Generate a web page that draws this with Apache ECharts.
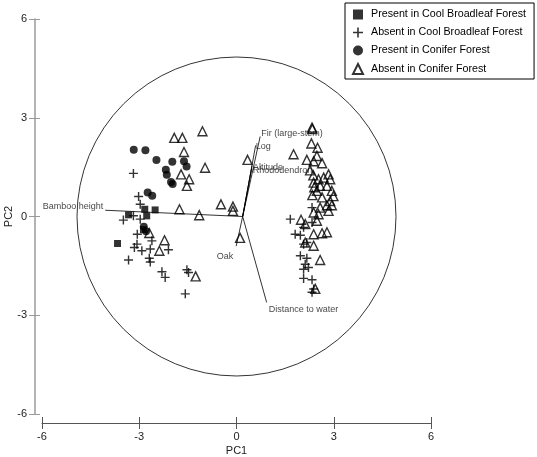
<!DOCTYPE html>
<html>
<head>
<meta charset="utf-8">
<script src="https://cdn.jsdelivr.net/npm/echarts@6/dist/echarts.min.js"></script>
<style>html,body{margin:0;padding:0;background:#fff;}#c{width:537px;height:457px;}</style>
</head>
<body>
<div id="c"></div>
<script>
// ---- data ----
const axisTicks = [-6, -3, 0, 3, 6];
const seriesNames = ['Present in Cool Broadleaf Forest', 'Absent in Cool Broadleaf Forest', 'Present in Conifer Forest', 'Absent in Conifer Forest'];

const presentBroadleaf = [
  [-3.33, 0.05], [-2.83, 0.22], [-2.51, 0.20], [-2.77, 0.02], [-2.87, -0.40], [-3.67, -0.82]
];

const absentBroadleaf = [
  [-3.18, 1.31], [-3.02, 0.61], [-2.97, 0.37], [-3.49, -0.11], [-3.18, 0.02], [-2.97, -0.08],
  [-3.06, -0.54], [-3.07, -0.84], [-3.15, -0.94], [-2.92, -1.04], [-2.66, -0.99], [-2.61, -0.74],
  [-2.10, -1.01], [-3.33, -1.32], [-2.69, -1.27], [-2.66, -1.38], [-2.30, -1.68], [-2.20, -1.85],
  [-1.53, -1.62], [-1.48, -1.70], [-1.58, -2.35],
  [1.66, -0.08], [2.07, -0.33], [2.33, -0.18], [1.81, -0.54], [1.97, -0.57], [2.17, -0.79],
  [2.07, -0.84], [1.97, -1.19], [2.17, -1.27], [2.12, -1.45], [2.22, -1.55], [2.07, -1.60],
  [2.07, -1.88], [2.33, -1.92], [2.38, -2.20], [2.33, -2.30], [2.33, 0.27]
];

const presentConifer = [
  [-3.17, 2.03], [-2.81, 2.01], [-2.47, 1.72], [-1.98, 1.66], [-1.62, 1.68], [-1.54, 1.52],
  [-2.18, 1.42], [-2.15, 1.27], [-2.02, 1.05], [-1.97, 0.99], [-2.74, 0.73], [-2.60, 0.63],
  [-2.86, -0.31], [-2.79, -0.45]
];

const absentConifer = [
  [-1.92, 2.39], [-1.67, 2.39], [-1.05, 2.59], [-1.62, 1.96], [-0.97, 1.48], [-1.71, 1.28],
  [-1.46, 1.13], [-1.53, 0.93], [-1.76, 0.22], [-1.15, 0.04], [-0.48, 0.37], [-0.11, 0.30],
  [-0.11, 0.17], [0.34, 1.72], [0.11, -0.65], [-2.22, -0.72], [-2.38, -1.04], [-1.26, -1.82],
  [-2.69, -0.50],
  [2.33, 2.70], [2.34, 2.66], [2.31, 2.22], [2.50, 2.09], [1.76, 1.89], [2.17, 1.72],
  [2.38, 1.68], [2.48, 1.84], [2.64, 1.62], [2.84, 1.28], [2.69, 1.18], [2.53, 1.13],
  [2.38, 1.03], [2.89, 1.13], [2.58, 0.93], [2.79, 0.93], [2.94, 0.78], [2.99, 0.62],
  [2.89, 0.47], [2.79, 0.34], [2.94, 0.34], [2.48, 0.78], [2.64, 0.58], [2.58, 0.27],
  [2.27, 1.40], [2.37, 1.25], [2.40, 0.89], [2.34, 0.65],
  [1.99, -0.10], [2.12, -0.23], [2.48, -0.13], [2.53, 0.07], [2.84, 0.17], [2.38, 0.12],
  [2.38, -0.54], [2.64, -0.51], [2.79, -0.48], [2.12, -0.79], [2.38, -0.89], [2.58, -1.32],
  [2.43, -2.20]
];

const vectorOrigin = [0.19, 0];
const vectorNames = ['Bamboo height', 'Fir (large-stem)', 'Log', 'Altitude', 'Rhododendron', 'Oak', 'Distance to water'];
const vectorX = [-4.05, 0.73, 0.59, 0.48, 0.47, -0.01, 0.93];
const vectorY = [0.19, 2.43, 2.16, 1.55, 1.46, -0.90, -2.61];
const circleRadius = 4.92;

// ---- styling (positions of labels relative to vector ends) ----
const labelStyle = {
  'Bamboo height': {offset: [-2, -4], align: 'right'},
  'Fir (large-stem)': {offset: [1, -3], align: 'left'},
  'Log': {offset: [0, 1], align: 'left'},
  'Altitude': {offset: [1, 2], align: 'left'},
  'Rhododendron': {offset: [1, 2], align: 'left'},
  'Oak': {offset: [-3, 10], align: 'right'},
  'Distance to water': {offset: [2, 7], align: 'left'}
};

const FONT = 'Arial, "Liberation Sans", sans-serif';
const PLUS = 'path://M4.2,0H5.8V4.2H10V5.8H5.8V10H4.2V5.8H0V4.2H4.2Z';

const chart = echarts.init(document.getElementById('c'), null, {renderer: 'canvas'});

const vecLines = vectorNames.map((n, i) => ({coords: [vectorOrigin, [vectorX[i], vectorY[i]]]}));
const vecLabels = vectorNames.map((n, i) => ({
  name: n,
  value: [vectorX[i], vectorY[i]],
  label: {
    show: true,
    formatter: n,
    position: labelStyle[n].offset,
    align: labelStyle[n].align,
    verticalAlign: 'middle',
    fontSize: 9,
    fontFamily: FONT,
    color: '#111'
  }
}));

const axisCommon = {min: -6, max: 6, interval: 3, splitLine: {show: false}};

chart.setOption({
  backgroundColor: '#fff',
  animation: false,
  grid: {left: 42, right: 106, top: 19, bottom: 43, containLabel: false, outerBoundsMode: 'none'},
  legend: {
    orient: 'vertical',
    left: 345,
    top: 3,
    data: seriesNames,
    itemWidth: 10,
    itemHeight: 10,
    itemGap: 7,
    padding: [6, 8, 4, 7],
    borderColor: '#000',
    borderWidth: 1,
    backgroundColor: '#fff',
    textStyle: {fontSize: 10.7, fontFamily: FONT, color: '#000', lineHeight: 10, padding: [0, 0, 0, 3]},
    selectedMode: false
  },
  xAxis: [
    Object.assign({}, axisCommon, {
      type: 'value', position: 'bottom', offset: 9,
      axisLine: {show: true, onZero: false, lineStyle: {color: '#555', width: 1}},
      axisTick: {show: true, length: 6, lineStyle: {color: '#555'}},
      axisLabel: {fontSize: 11, fontFamily: FONT, color: '#222', margin: 8},
      name: 'PC1', nameLocation: 'middle', nameGap: 22, nameMoveOverlap: false,
      nameTextStyle: {fontSize: 11, fontFamily: FONT, color: '#222'}
    }),
    Object.assign({}, axisCommon, {
      type: 'value', position: 'bottom', offset: 9,
      axisLine: {show: false, onZero: false},
      axisTick: {show: true, inside: true, length: 6, lineStyle: {color: '#555'}},
      axisLabel: {show: false}
    })
  ],
  yAxis: [
    Object.assign({}, axisCommon, {
      type: 'value', position: 'left', offset: 7,
      axisLine: {show: true, onZero: false, lineStyle: {color: '#9a9a9a', width: 1.5}},
      axisTick: {show: true, length: 6, lineStyle: {color: '#9a9a9a', width: 1}},
      axisLabel: {fontSize: 11, fontFamily: FONT, color: '#222', margin: 8},
      name: 'PC2', nameLocation: 'middle', nameGap: 21, nameMoveOverlap: false,
      nameTextStyle: {fontSize: 11, fontFamily: FONT, color: '#222'}
    }),
    Object.assign({}, axisCommon, {
      type: 'value', position: 'left', offset: 7,
      axisLine: {show: false, onZero: false},
      axisTick: {show: true, inside: true, length: 5, lineStyle: {color: '#9a9a9a', width: 1}},
      axisLabel: {show: false}
    })
  ],
  series: [
    {
      type: 'lines', coordinateSystem: 'cartesian2d', data: vecLines, silent: true,
      lineStyle: {color: '#000', width: 0.8, opacity: 1}, z: 1
    },
    {
      type: 'scatter', data: vecLabels, symbolSize: 0, silent: true, z: 1
    },
    {
      name: seriesNames[0], type: 'scatter', data: presentBroadleaf, symbol: 'rect', symbolSize: 7,
      itemStyle: {color: '#000'}, z: 3
    },
    {
      name: seriesNames[1], type: 'scatter', data: absentBroadleaf, symbol: PLUS, symbolSize: 9,
      itemStyle: {color: '#000'}, z: 3
    },
    {
      name: seriesNames[2], type: 'scatter', data: presentConifer, symbol: 'circle', symbolSize: 8,
      itemStyle: {color: '#000'}, z: 3
    },
    {
      name: seriesNames[3], type: 'scatter', data: absentConifer, symbol: 'triangle', symbolSize: 9,
      itemStyle: {color: 'rgba(255,255,255,0)', borderColor: '#000', borderWidth: 1.4}, z: 3
    }
  ]
});

const c0 = chart.convertToPixel({gridIndex: 0}, [0, 0]);
const c1 = chart.convertToPixel({gridIndex: 0}, [circleRadius, 0]);
chart.setOption({
  graphic: [{
    type: 'circle', silent: true, z: 0,
    shape: {cx: c0[0], cy: c0[1], r: c1[0] - c0[0]},
    style: {fill: 'none', stroke: '#000', lineWidth: 0.8}
  }]
});
</script>
</body>
</html>
